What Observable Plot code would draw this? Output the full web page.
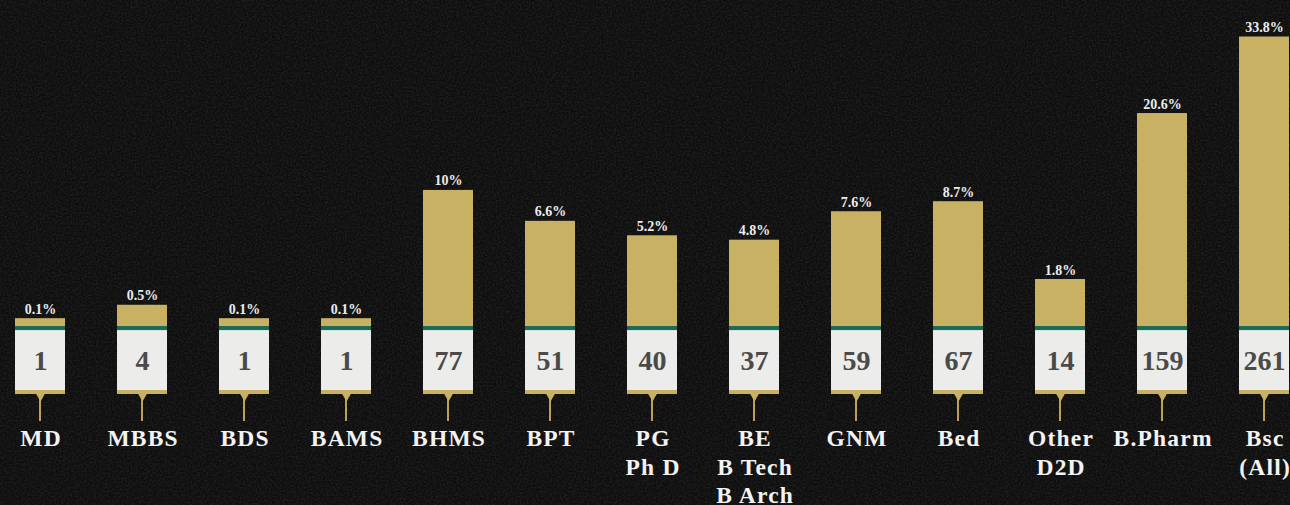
<!DOCTYPE html>
<html>
<head>
<meta charset="utf-8">
<script src="https://cdn.jsdelivr.net/npm/d3@7"></script>
<script src="https://cdn.jsdelivr.net/npm/@observablehq/plot@0.6"></script>
<style>
  html, body { margin: 0; padding: 0; background: #0e0e0e; overflow: hidden; }
  #chart svg { display: block; background: linear-gradient(#171717, #0c0c0c 70%, #090909); }
</style>
</head>
<body>
<div id="chart"></div>
<script>
// ---- Data ----
const categories = ["MD", "MBBS", "BDS", "BAMS", "BHMS", "BPT", "PG\nPh D", "BE\nB Tech\nB Arch", "GNM", "Bed", "Other\nD2D", "B.Pharm", "Bsc\n(All)"];
const counts = [1, 4, 1, 1, 77, 51, 40, 37, 59, 67, 14, 159, 261];
const percents = [0.1, 0.5, 0.1, 0.1, 10, 6.6, 5.2, 4.8, 7.6, 8.7, 1.8, 20.6, 33.8];
const percentLabels = ["0.1%", "0.5%", "0.1%", "0.1%", "10%", "6.6%", "5.2%", "4.8%", "7.6%", "8.7%", "1.8%", "20.6%", "33.8%"];

const data = categories.map((cat, i) => ({cat, count: counts[i], pct: percents[i], label: percentLabels[i]}));

const gold = "#c9b164";
const goldDark = "#b9a15c";
const green = "#1d6a58";
const boxFill = "#ececeb";
const serif = "'Liberation Serif', 'Times New Roman', serif";

const chart = Plot.plot({
  width: 1290,
  height: 505,
  marginLeft: 14,
  marginRight: 0,
  marginTop: 36.5,
  marginBottom: 179,
  style: {background: "transparent", fontFamily: serif},
  x: {type: "band", domain: categories, paddingInner: 0.511, paddingOuter: 0, axis: null},
  y: {type: "pow", exponent: 0.62, domain: [0, 33.8], axis: null},
  marks: [
    // gold percentage bars
    Plot.barY(data, {x: "cat", y: "pct", fill: gold}),
    // green band under each bar
    Plot.barY(data, {x: "cat", y1: 0, y2: 0, insetTop: 0, insetBottom: -4, fill: green}),
    // thin light line
    Plot.barY(data, {x: "cat", y1: 0, y2: 0, insetTop: 4, insetBottom: -5, fill: "#cde6e0"}),
    // white count box
    Plot.barY(data, {x: "cat", y1: 0, y2: 0, insetTop: 5, insetBottom: -64, fill: boxFill}),
    // gold strip under box
    Plot.barY(data, {x: "cat", y1: 0, y2: 0, insetTop: 64, insetBottom: -68, fill: gold}),
    // stem
    Plot.barY(data, {x: "cat", y1: 0, y2: 0, insetTop: 68, insetBottom: -95, insetLeft: 24, insetRight: 24, fill: goldDark}),
    // small wedge under the strip
    Plot.dot(data, {x: "cat", y: 0, dy: 70, symbol: "triangle", rotate: 180, r: 3.2, fill: gold, stroke: "none"}),
    // percentage labels
    Plot.text(data, {x: "cat", y: "pct", text: "label", dy: -5, lineAnchor: "bottom", fill: "#ececec", fontSize: 14, fontWeight: "bold", fontFamily: serif}),
    // count numbers
    Plot.text(data, {x: "cat", y: 0, text: d => String(d.count), dy: 35, fill: "#4a4a4a", fontSize: 28, fontWeight: "bold", fontFamily: serif}),
    // category labels
    Plot.text(data, {x: "cat", y: 0, text: "cat", dy: 99, dx: 0.6, lineAnchor: "top", lineHeight: 1.22, fill: "#f3f3f3", fontSize: 23.5, fontWeight: "bold", fontFamily: serif})
  ]
});

const svg = d3.select(chart);
// slightly wider letter spacing on the category labels (last text layer)
const textLayers = svg.selectAll('g[aria-label="text"]').nodes();
d3.select(textLayers[textLayers.length - 1]).attr("letter-spacing", 1.2);

// subtle noise texture behind the marks
const defs = svg.insert("defs", ":first-child");
const f = defs.append("filter").attr("id", "grain").attr("x", 0).attr("y", 0).attr("width", "100%").attr("height", "100%");
f.append("feTurbulence").attr("type", "fractalNoise").attr("baseFrequency", 0.55).attr("numOctaves", 2).attr("seed", 7);
f.append("feColorMatrix").attr("type", "matrix").attr("values", "0 0 0 0 0.55  0 0 0 0 0.55  0 0 0 0 0.55  0 0 0 0.55 -0.18");
svg.insert("rect", "defs + *").attr("width", 1290).attr("height", 505).attr("filter", "url(#grain)").attr("opacity", 0.35);

document.getElementById("chart").append(chart);
</script>
</body>
</html>
